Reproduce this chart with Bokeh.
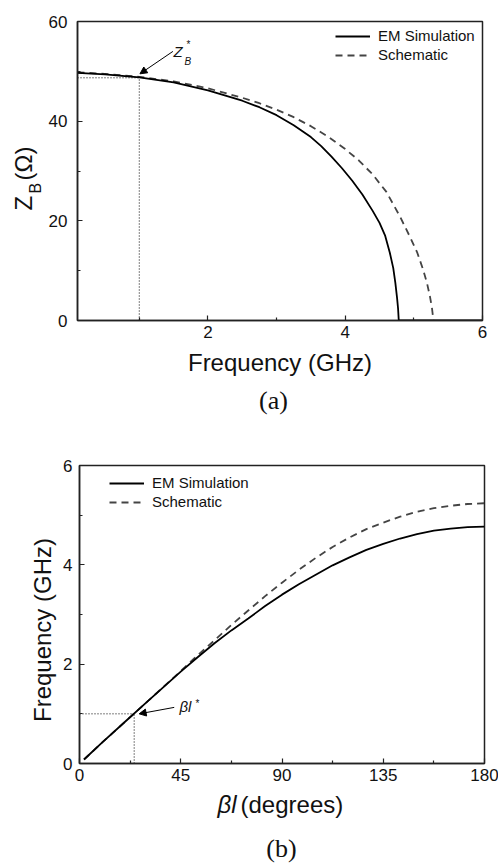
import math
from bokeh.plotting import figure
from bokeh.models import Label, Legend, LegendItem, FixedTicker, Arrow, NormalHead, Range1d
from bokeh.layouts import column, row
from bokeh.embed import file_html
from bokeh.resources import INLINE

# ---------------- Panel (a): Bloch impedance vs frequency ----------------
freq_em = [0.1, 0.5, 1.0, 1.5, 2.0, 2.5, 2.75, 3.0, 3.25, 3.5, 3.65, 3.8, 3.95, 4.1, 4.25,
           4.4, 4.5, 4.58, 4.65, 4.7, 4.73, 4.755, 4.77, 4.78, 5.0, 5.5, 6.0]
zb_em = [49.7, 49.4, 48.8, 47.8, 46.2, 44.1, 42.8, 41.2, 39.2, 36.8, 35.0, 32.9, 30.6, 28.1, 25.3,
         22.0, 19.6, 17.1, 13.6, 10.5, 7.6, 4.6, 2.4, 0.0, 0.0, 0.0, 0.0]
freq_sch = [0.1, 0.5, 1.0, 1.5, 2.0, 2.5, 2.75, 3.0, 3.25, 3.5, 3.75, 4.0, 4.2, 4.4, 4.6,
            4.8, 4.95, 5.05, 5.13, 5.19, 5.235, 5.265, 5.285]
zb_sch = [49.8, 49.5, 48.9, 48.0, 46.6, 44.7, 43.6, 42.3, 40.8, 39.0, 36.9, 34.4, 32.1, 29.3, 25.8,
          20.8, 16.6, 13.6, 10.4, 7.6, 4.8, 2.4, 0.0]
fa_ticks = [2, 4, 6]
fa_minor = [1, 3, 5]
za_ticks = [0, 20, 40, 60]
za_minor = [10, 30, 50]
f_star = 1.0
zb_star = 48.7

# ---------------- Panel (b): dispersion ----------------
bl_em = [2, 10, 20, 30, 45, 52.5, 60, 67.5, 75, 82.5, 90, 97.5, 105, 112.5, 120, 127.5,
         135, 142.5, 150, 157.5, 165, 172.5, 180]
fb_em = [0.08, 0.42, 0.83, 1.24, 1.85, 2.14, 2.42, 2.68, 2.92, 3.17, 3.40, 3.61, 3.80, 3.99,
         4.15, 4.30, 4.42, 4.53, 4.62, 4.69, 4.73, 4.76, 4.77]
bl_sch = [2, 10, 20, 30, 45, 52.5, 60, 67.5, 75, 82.5, 90, 97.5, 105, 112.5, 120, 127.5,
          135, 142.5, 150, 157.5, 165, 172.5, 180]
fb_sch = [0.08, 0.42, 0.83, 1.24, 1.86, 2.18, 2.48, 2.79, 3.08, 3.37, 3.64, 3.90, 4.14, 4.36,
          4.55, 4.72, 4.85, 4.97, 5.07, 5.14, 5.19, 5.225, 5.24]
bl_ticks = [0, 45, 90, 135, 180]
bl_minor = [22.5, 67.5, 112.5, 157.5]
fb_ticks = [0, 2, 4, 6]
fb_minor = [1, 3, 5]
bl_star = 24.3
fb_star = 1.0

SANS = "Liberation Sans"
SERIF = "Liberation Serif"
AX = "#222222"
TXT = "#111111"
ROT = math.pi / 2


def style(p, xt, xm, yt, ym, ystand):
    p.xgrid.visible = False
    p.ygrid.visible = False
    p.outline_line_color = AX
    p.outline_line_width = 1.5
    p.xaxis.ticker = FixedTicker(ticks=xt, minor_ticks=xm)
    p.yaxis.ticker = FixedTicker(ticks=yt, minor_ticks=ym)
    for ax in (p.xaxis[0], p.yaxis[0]):
        ax.axis_line_color = AX
        ax.axis_line_width = 1.5
        ax.major_tick_in = 5
        ax.major_tick_out = 0
        ax.minor_tick_in = 3
        ax.minor_tick_out = 0
        ax.major_tick_line_color = AX
        ax.minor_tick_line_color = AX
        ax.major_tick_line_width = 1.2
        ax.minor_tick_line_width = 1.2
        ax.major_label_text_font = SANS
        ax.major_label_text_font_size = "17px"
        ax.major_label_text_color = TXT
        ax.axis_label_text_font = SANS
        ax.axis_label_text_font_size = "24px"
        ax.axis_label_text_font_style = "normal"
        ax.axis_label_text_color = TXT
    p.xaxis[0].major_label_standoff = 5
    p.yaxis[0].major_label_standoff = ystand


def lab(p, x, y, text, size, font=SANS, fstyle="normal", align="left",
        baseline="alphabetic", angle=0.0):
    p.add_layout(Label(x=x, y=y, x_units="screen", y_units="screen", text=text,
                       text_font=font, text_font_size=size, text_font_style=fstyle,
                       text_align=align, text_baseline=baseline, angle=angle,
                       text_color=TXT))


def textfig(w, h, top=0, bottom=0):
    f = figure(width=w, height=h, x_range=Range1d(0, 1), y_range=Range1d(0, 1),
               x_axis_location=None, y_axis_location=None,
               output_backend="svg", toolbar_location=None,
               min_border_left=0, min_border_right=0,
               min_border_top=top, min_border_bottom=bottom)
    f.grid.visible = False
    f.outline_line_color = None
    return f


def legend(p, r1, r2, loc):
    leg = Legend(items=[LegendItem(label="EM Simulation", renderers=[r1]),
                        LegendItem(label="Schematic", renderers=[r2])],
                 location=loc, orientation="vertical",
                 label_text_font=SANS, label_text_font_size="15px", label_text_color=TXT,
                 glyph_width=35, glyph_height=16, label_height=16, label_standoff=8,
                 spacing=2, padding=0, margin=0,
                 border_line_color=None, background_fill_alpha=0)
    p.add_layout(leg)


# ---------------- figure (a) ----------------
pa = figure(frame_width=405, frame_height=299, x_range=Range1d(0.1, 6), y_range=Range1d(0, 60),
            output_backend="svg", toolbar_location=None,
            min_border_left=30, min_border_right=18, min_border_top=21, min_border_bottom=62)
style(pa, fa_ticks, fa_minor, za_ticks, za_minor, 10)
pa.xaxis.axis_label = "Frequency (GHz)"
pa.xaxis.axis_label_standoff = 8

pa.line([0.1, f_star], [zb_star, zb_star], line_color="black", line_width=1, line_dash="1 2")
pa.line([f_star, f_star], [0, zb_star], line_color="black", line_width=1, line_dash="1 2")
ra2 = pa.line(freq_sch, zb_sch, line_color="#444444", line_width=1.8, line_dash="7 5")
ra1 = pa.line(freq_em, zb_em, line_color="black", line_width=1.8)
legend(pa, ra1, ra2, (258, 257))

pa.add_layout(Arrow(end=NormalHead(size=7, fill_color="black", line_color="black"),
                    x_start=f_star + 0.49, y_start=zb_star + 5.3,
                    x_end=f_star + 0.01, y_end=zb_star + 0.8,
                    line_color="black", line_width=1))
lab(pa, 96, 269, "Z", "15px", fstyle="italic")
lab(pa, 107, 259, "B", "10px", fstyle="italic")
lab(pa, 109, 276, "*", "10px")

# frame of this figure is aligned with the frame of pa (page y 21..320)
ylab_a = textfig(45, 382, top=21, bottom=62)
lab(ylab_a, 23, 110, "Z", "24px", angle=ROT)
lab(ylab_a, 35, 127, "B", "16px", angle=ROT)
lab(ylab_a, 23, 140, "(\u03a9)", "24px", angle=ROT)

cap_a = textfig(498, 46)
lab(cap_a, 273, 28, "(a)", "26px", font=SERIF, align="center")

# ---------------- figure (b) ----------------
pb = figure(frame_width=405, frame_height=298, x_range=Range1d(0, 180), y_range=Range1d(0, 6),
            output_backend="svg", toolbar_location=None,
            min_border_left=17, min_border_right=16, min_border_top=37, min_border_bottom=27)
style(pb, bl_ticks, bl_minor, fb_ticks, fb_minor, 7)

pb.line([0, bl_star], [fb_star, fb_star], line_color="black", line_width=1, line_dash="1 2")
pb.line([bl_star, bl_star], [0, fb_star], line_color="black", line_width=1, line_dash="1 2")
rb2 = pb.line(bl_sch, fb_sch, line_color="#444444", line_width=1.8, line_dash="7 5")
rb1 = pb.line(bl_em, fb_em, line_color="black", line_width=1.8)
legend(pb, rb1, rb2, (30, 253))

pb.add_layout(Arrow(end=NormalHead(size=7, fill_color="black", line_color="black"),
                    x_start=bl_star + 17.8, y_start=fb_star + 0.13,
                    x_end=bl_star + 2.2, y_end=fb_star,
                    line_color="black", line_width=1))
lab(pb, 100, 57, "\u03b2l", "15px", fstyle="italic")
lab(pb, 116, 60, "*", "10px")

# frame aligned with pb's frame (page y 465..763)
ylab_b = textfig(60, 362, top=37, bottom=27)
lab(ylab_b, 42, 133.5, "Frequency (GHz)", "24px", align="center", angle=ROT)

cap_b = textfig(498, 73)
lab(cap_b, 217, 59, "\u03b2l", "24px", fstyle="italic")
lab(cap_b, 240, 59, "(degrees)", "24px")
lab(cap_b, 281, 15, "(b)", "26px", font=SERIF, align="center")

layout = column(row(ylab_a, pa), cap_a, row(ylab_b, pb), cap_b)
open("out.html", "w").write(file_html(layout, INLINE))
